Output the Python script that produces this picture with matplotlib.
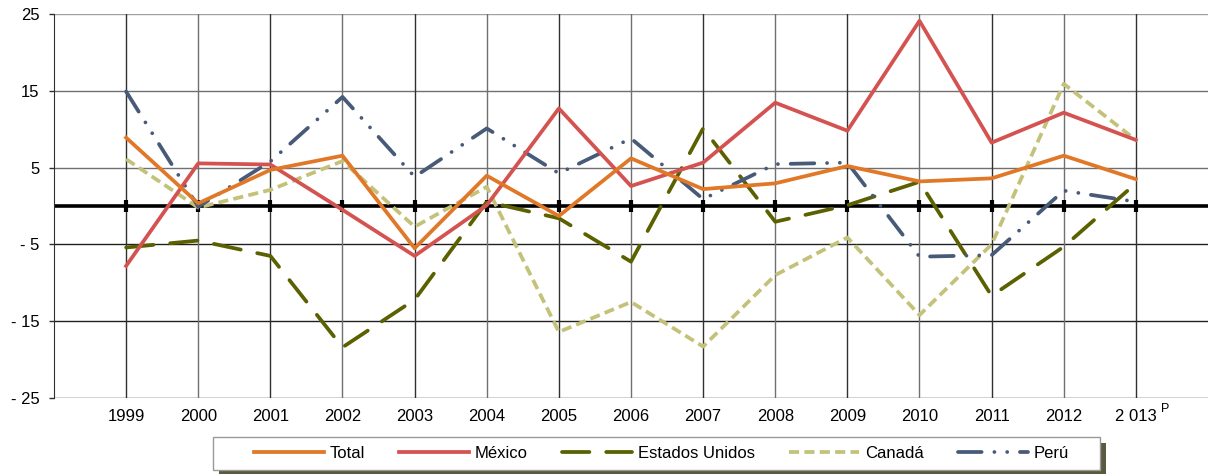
import matplotlib.pyplot as plt
from matplotlib.patches import Rectangle

plt.rcParams['font.family'] = ['Liberation Sans', 'DejaVu Sans']

years = list(range(1999, 2014))
year_labels = [str(y) for y in years[:-1]] + ['2 013']

total   = [8.9, 0.35, 4.7, 6.55, -5.5, 3.95, -1.3, 6.2, 2.2, 2.95, 5.2, 3.2, 3.6, 6.55, 3.5]
mexico  = [-7.8, 5.55, 5.4, -0.5, -6.5, 0.1, 12.7, 2.6, 5.65, 13.45, 9.8, 24.1, 8.25, 12.15, 8.6]
eeuu    = [-5.4, -4.5, -6.5, -18.4, -12.2, 0.55, -1.6, -7.25, 10.1, -2.05, 0.1, 3.15, -11.7, -5.3, 2.95]
canada  = [6.1, -0.2, 2.1, 5.85, -2.7, 2.5, -16.4, -12.5, -18.3, -9.0, -4.1, -14.2, -5.0, 15.9, 8.6]
peru    = [14.9, -0.1, 5.8, 14.2, 3.8, 10.1, 4.25, 8.8, 0.9, 5.45, 5.65, -6.6, -6.4, 2.0, 0.55]

yticks = [25, 15, 5, -5, -15, -25]
ytick_labels = ['25', '15', '5', '- 5', '- 15', '- 25']

fig = plt.figure(figsize=(12.08, 4.74), dpi=100)
ax = fig.add_axes([0.0447, 0.1603, 0.9553, 0.8102])

# grid
grid_cols = {25: '#a0a0a0', 15: '#707070', 5: '#707070', -5: '#202020', -15: '#202020', -25: '#202020'}
for y in yticks:
    ax.axhline(y, color=grid_cols[y], lw=1.0, zorder=1)
for i, x in enumerate(years):
    ax.axvline(x, color='#707070' if i % 2 else '#303030', lw=1.0, zorder=1)
ax.axhline(0, color='black', lw=2.6, zorder=2)
ax.plot(years, [0] * len(years), ls='none', marker='|', ms=8, mew=3, color='black', zorder=2)

lw = 2.7
ax.plot(years, total, color='#E07828', lw=lw, label='Total', zorder=5)
ax.plot(years, mexico, color='#D45250', lw=lw, label='México', zorder=4)
ax.plot(years, eeuu, color='#5B6100', lw=lw, dashes=(7.3, 4.5), dash_capstyle='round',
        label='Estados Unidos', zorder=3)
ax.plot(years, canada, color='#C4C27A', lw=lw, dashes=(2.7, 1.4), label='Canadá', zorder=3)
ax.plot(years, peru, color='#475A78', lw=lw, dashes=(6.3, 3.4, 0.01, 3.4, 0.01, 3.4),
        dash_capstyle='round', label='Perú', zorder=3)

ax.set_xlim(1998, 2014)
ax.set_ylim(-25, 25)
ax.set_yticks(yticks)
ax.set_yticklabels(ytick_labels, fontsize=12)
ax.set_xticks(years)
ax.set_xticklabels(year_labels, fontsize=12)
ax.tick_params(axis='x', length=0, pad=8)
ax.tick_params(axis='y', length=3.6, width=1, color='#303030', pad=7)
ax.annotate('P', xy=(2013, -25), xytext=(18, -3.5), textcoords='offset points',
            va='top', ha='left', fontsize=9)

for s in ['top', 'right', 'bottom']:
    ax.spines[s].set_visible(False)
ax.spines['left'].set_color('#303030')

# legend box with shadow
fig.patches.append(Rectangle((0.1813, -0.004), 0.7343, 0.0696, transform=fig.transFigure,
                             facecolor='#5A5A3E', edgecolor='none', zorder=1))
fig.patches.append(Rectangle((0.1763, 0.0084), 0.7343, 0.0696, transform=fig.transFigure,
                             facecolor='white', edgecolor='#999999', lw=1, zorder=2))
leg = fig.legend(loc='center', bbox_to_anchor=(0.5476, 0.0433), ncol=5, fontsize=12,
                 frameon=False, handlelength=4.2, handletextpad=0.35,
                 columnspacing=2.05, borderpad=0.2)

fig.savefig('out.png', dpi=100)
